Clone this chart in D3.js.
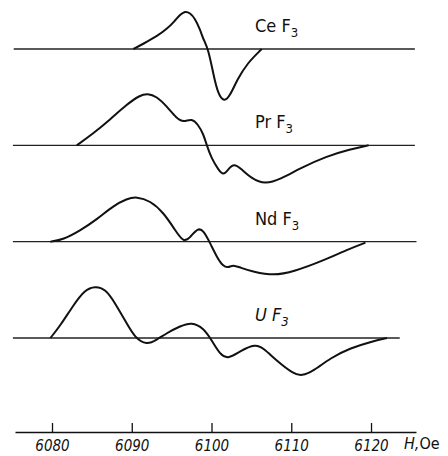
<!DOCTYPE html>
<html>
<head>
<meta charset="utf-8">
<script src="https://cdn.jsdelivr.net/npm/d3@7"></script>
<style>
  body { margin: 0; background: #fff; }
  svg { display: block; }
  .lbl { font-family: "DejaVu Sans Condensed", sans-serif; font-size: 18px; fill: #111; }
  .tick text { font-family: "DejaVu Sans Condensed", sans-serif; font-style: italic; font-size: 15px; fill: #111; }
</style>
</head>
<body>
<div id="chart"></div>
<script>
// compounds, top to bottom
const compounds = ["Ce", "Pr", "Nd", "U"];

// field H (Oe) and signal (arbitrary units, + up)
const ceH = [6090.2, 6091.4, 6093.2, 6094.4, 6095.4, 6096.0, 6096.7, 6097.3, 6097.9, 6098.6, 6098.9, 6099.6, 6100.2, 6100.8, 6101.6, 6102.3, 6103.2, 6104.5, 6106.3];
const ceS = [0, 5, 13, 20, 28, 34, 38, 36, 31, 19, 11, 0, -24, -45, -53, -47, -31, -14, 0];

const prH = [6083.1, 6085.2, 6087.3, 6089.4, 6091.0, 6092.0, 6093.1, 6094.4, 6095.6, 6096.5, 6097.5, 6098.3, 6099.0, 6099.4, 6100.0, 6100.9, 6101.5, 6102.1, 6102.8, 6103.8, 6105.0, 6106.7, 6108.6, 6111.1, 6114.4, 6117.4, 6119.7];
const prS = [0, 12, 26, 41, 50, 52, 49, 39, 27, 23, 27, 21, 11, 0, -13, -25, -30, -24, -18, -24, -33, -39, -34, -23, -11, -4, 0];

const ndH = [6079.8, 6081.4, 6083.5, 6085.6, 6087.7, 6089.4, 6090.6, 6092.3, 6094.0, 6095.4, 6096.5, 6097.3, 6098.3, 6099.0, 6099.8, 6100.7, 6101.5, 6102.1, 6102.7, 6103.6, 6105.2, 6107.8, 6110.3, 6114.0, 6117.0, 6119.3];
const ndS = [0, 2, 11, 22, 36, 43, 45, 41, 29, 12, -1, 4, 14, 11, -1, -16, -25, -26, -23, -26, -30, -34, -30, -19, -8, -1];

const uH = [6079.8, 6081.0, 6082.7, 6084.1, 6085.4, 6086.7, 6087.9, 6089.2, 6090.4, 6091.9, 6093.1, 6094.4, 6096.1, 6097.5, 6099.0, 6100.0, 6101.1, 6102.1, 6103.6, 6105.5, 6106.5, 6108.2, 6110.3, 6111.3, 6112.8, 6114.9, 6117.4, 6120.3, 6122.0];
const uS = [0, 12, 33, 48, 52, 49, 35, 17, 0, -7, -2, 5, 12, 16, 10, -2, -17, -21, -13, -6, -10, -23, -36, -38, -33, -20, -10, -3, 0];

// horizontal zero line extents (Oe)
const zeroStart = [6075.2, 6075.1, 6075.1, 6075.1];
const zeroEnd = [6125.5, 6125.5, 6125.7, 6123.6];

const tickValues = [6080, 6090, 6100, 6110, 6120];

const traces = [
    {name: "Ce", h: ceH, s: ceS},
    {name: "Pr", h: prH, s: prS},
    {name: "Nd", h: ndH, s: ndS},
    {name: "U", h: uH, s: uS}
];

const width = 448, height = 456;

const svg = d3.select("#chart").append("svg")
    .attr("width", width)
    .attr("height", height);

const x = d3.scaleLinear().domain([6075.36, 6125.64]).range([15, 416]);
const band = d3.scalePoint().domain(compounds).range([49, 338]);
const y = d3.scaleLinear().domain([-60, 60]).range([60, -60]);

// basis smooths out the hand-read wobble
const line = d3.line()
    .x(d => x(d[0]))
    .y(d => y(d[1]))
    .curve(d3.curveBasis);

traces.forEach((t, i) => {
    const g = svg.append("g")
        .attr("transform", `translate(0, ${band(t.name)})`);

    g.append("line")
        .attr("x1", x(zeroStart[i]))
        .attr("x2", x(zeroEnd[i]))
        .attr("y1", y(0))
        .attr("y2", y(0))
        .attr("stroke", "#222")
        .attr("stroke-width", 1.3);

    g.append("path")
        .datum(t.h.map((h, k) => [h, t.s[k]]))
        .attr("d", line)
        .attr("fill", "none")
        .attr("stroke", "#111")
        .attr("stroke-width", 2);

    const txt = g.append("text")
        .attr("class", "lbl")
        .attr("x", 255)
        .attr("y", -17)
        .style("font-style", t.name === "U" ? "italic" : "normal");
    txt.append("tspan").text(t.name + " F");
    txt.append("tspan")
        .attr("dy", 5)
        .style("font-size", "13px")
        .text("3");
});

// field axis
const axis = d3.axisBottom(x)
    .tickValues(tickValues)
    .tickFormat(d3.format("d"))
    .tickSizeInner(-9)
    .tickSizeOuter(0)
    .tickPadding(10);

const ax = svg.append("g")
    .attr("transform", "translate(0, 432)")
    .call(axis);

ax.select(".domain").attr("stroke", "#111").attr("stroke-width", 1.5);
ax.selectAll(".tick line").attr("stroke", "#111").attr("stroke-width", 1.3);
ax.selectAll(".tick text").attr("dy", "0.6em");

const unit = svg.append("text")
    .attr("x", 404)
    .attr("y", 449)
    .style("font-family", "DejaVu Sans Condensed, sans-serif")
    .style("font-size", "16px")
    .attr("fill", "#111");
unit.append("tspan").style("font-style", "italic").text("H,");
unit.append("tspan").text("Oe");
</script>
</body>
</html>
